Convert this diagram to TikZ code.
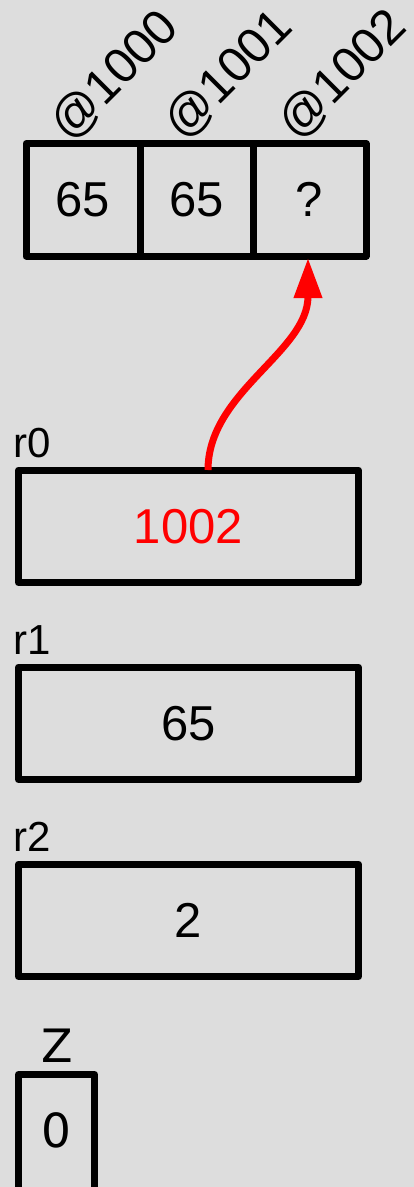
\documentclass[tikz,border=0pt]{standalone}
\usepackage{fontspec}
\setmainfont{Liberation Sans}
\newfontfamily\dejavu{DejaVu Sans}
\usetikzlibrary{arrows.meta}
\definecolor{bg}{HTML}{DDDDDD}
\begin{document}
\begin{tikzpicture}[x=1pt,y=-1pt,
  cell/.style={draw, line width=7pt, line join=round, inner sep=0pt, outer sep=0pt,
    minimum height=112.5pt, font=\fontsize{49}{50}\selectfont},
  reg/.style={cell, minimum width=340pt},
  addr/.style={rotate=45, font=\fontsize{49}{50}\selectfont, inner sep=0pt},
  rlabel/.style={anchor=base west, inner sep=0pt, font=\fontsize{42}{44}\selectfont},
  ptr/.style={red, line width=7pt, -{Triangle[length=40pt,width=27pt]}}]
\useasboundingbox (0,0) rectangle (414,1187);
\fill[bg] (0,0) rectangle (414,1187);
\clip (0,0) rectangle (414,1187);
% memory array
\node[cell, minimum width=114pt] (c1) at (83,199.75) {65};
\node[cell, minimum width=113pt] (c2) at (196.5,199.75) {65};
\node[cell, minimum width=113pt] (c3) at (309.5,199.75) {?};
\node[addr] (a1) at (115,76) {@1000};
\node[addr] (a2) at (229,75) {@1001};
\node[addr] (a3) at (343,75) {@1002};
% registers
\node[rlabel] (l0) at (13.5,457) {r0};
\node[reg, text=red] (r0) at (188.5,526.25) {1002};
\node[rlabel] (l1) at (13.5,654) {r1};
\node[reg] (r1) at (188.5,723.25) {65};
\node[rlabel] (l2) at (13.5,851) {r2};
\node[reg] (r2) at (188.5,920.25) {2};
% Z flag
\node[inner sep=0pt, anchor=base, font=\dejavu\fontsize{46}{48}\selectfont] (zl) at (57,1062) {Z};
\node[draw, line width=7pt, line join=round, minimum width=76pt, minimum height=140pt, inner sep=0pt] (zb) at (56.5,1144.5) {};
\node[inner sep=0pt, font=\dejavu\fontsize{47}{48}\selectfont] (zv) at (56.5,1130.5) {0};
% pointer
\coordinate (p0) at (208,470);
\coordinate (p1) at (308,258);
\draw[ptr] (p0) .. controls (208,392) and (308,352) .. (p1);
\end{tikzpicture}
\end{document}
